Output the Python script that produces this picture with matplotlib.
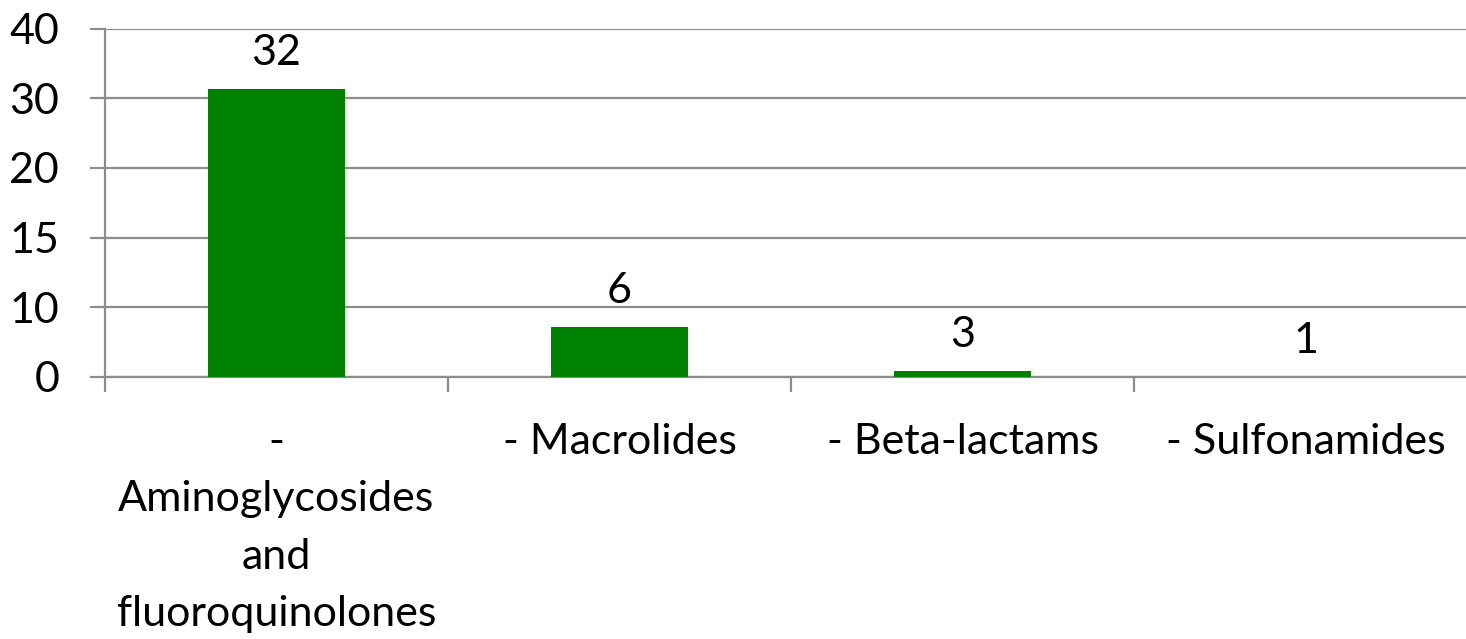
import numpy as np
import matplotlib
matplotlib.use('Agg')
import matplotlib.pyplot as plt

categories = ['-\nAminoglycosides\nand\nfluoroquinolones', '- Macrolides', '- Beta-lactams', '- Sulfonamides']
bar_heights = [31.3, 7.2, 0.86, 0.0]   # heights as drawn against the axis
bar_labels = ['32', '6', '3', '1']       # values printed above bars
y_ticks = [0, 10, 15, 20, 30, 40]       # equally spaced gridlines

grid_color = '#8c8c8c'
bar_color = '#008000'
font = 'Lato'
fsize = 31

tick_pos = np.arange(len(y_ticks))

def fwd(v):
    return np.interp(v, y_ticks, tick_pos)

def inv(p):
    return np.interp(p, tick_pos, y_ticks)

fig = plt.figure(figsize=(14.66, 6.39), dpi=100, facecolor='white')
# right edge runs past the picture, as in the reference
ax = fig.add_axes([105/1466, 1 - 377/639, 1372/1466, (377 - 28.5)/639])

ax.set_yscale('function', functions=(fwd, inv))
x = np.arange(len(categories))
ax.bar(x, bar_heights, width=0.40, color=bar_color, zorder=3)

ax.set_xlim(-0.5, len(categories) - 0.5)
ax.set_ylim(0, 40)
ax.set_yticks(y_ticks)
ax.set_yticklabels([str(t) for t in y_ticks], fontsize=fsize, fontname=font)
ax.yaxis.grid(True, color=grid_color, linewidth=1.6, zorder=0)

ax.set_xticks(x)
ax.set_xticklabels(categories, fontsize=fsize, fontname=font, linespacing=1.63)
ax.set_xticks(np.arange(len(categories)) - 0.5, minor=True)
ax.tick_params(axis='x', which='major', length=0, pad=33)
ax.tick_params(axis='x', which='minor', length=11, width=1.6, color=grid_color)
ax.tick_params(axis='y', length=11, width=1.6, color=grid_color, pad=22, labelcolor='black')

for s in ['top', 'right']:
    ax.spines[s].set_visible(False)
ax.spines['left'].set_color(grid_color)
ax.spines['left'].set_linewidth(1.6)
ax.spines['bottom'].set_color(grid_color)
ax.spines['bottom'].set_linewidth(1.6)

for xi, h, lab in zip(x, bar_heights, bar_labels):
    ax.annotate(lab, (xi, h), xytext=(0, 26), textcoords='offset points',
                ha='center', va='center', fontsize=fsize, fontname=font)

fig.savefig('out.png', dpi=100, facecolor='white')
